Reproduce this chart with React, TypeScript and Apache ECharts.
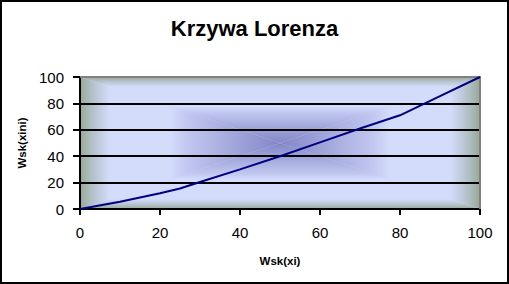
import React, { useEffect, useRef } from "react";
import * as echarts from "echarts";

const chartTitle = "Krzywa Lorenza";
const xAxisName = "Wsk(xi)";
const yAxisName = "Wsk(xini)";
const xValues = [0, 10, 20, 25, 30, 40, 50, 60, 70, 80, 90, 100];
const yValues = [0, 5.5, 12, 15.5, 20.5, 30, 40, 50.5, 61, 71, 85.5, 100];

const W = 509;
const H = 284;
const X0 = 80, X1 = 480, Y0 = 77, Y1 = 209;
const CX = (X0 + X1) / 2, CY = (Y0 + Y1) / 2;

const stops = [
  { offset: 0, color: "#97a994" },
  { offset: 0.06, color: "#b3c0c8" },
  { offset: 0.15, color: "#d4dcfc" },
  { offset: 0.45, color: "#d4dcfc" },
  { offset: 0.53, color: "#c2c8f0" },
  { offset: 1, color: "#8286c6" },
];

function grad(x: number, y: number, x2: number, y2: number) {
  return { type: "linear", x, y, x2, y2, colorStops: stops };
}

export default function App() {
  const ref = useRef<HTMLDivElement>(null);
  useEffect(() => {
    if (!ref.current) return;
    const chart = echarts.init(ref.current, null, { renderer: "svg" });
    const font = "'Liberation Sans', Arial, sans-serif";
    chart.setOption({
      animation: false,
      backgroundColor: "#ffffff",
      title: {
        text: chartTitle,
        left: "center",
        top: 12,
        textStyle: { fontSize: 22, fontWeight: "bold", color: "#000", fontFamily: font },
      },
      grid: { left: X0, right: W - X1, top: Y0, bottom: H - Y1 },
      xAxis: {
        type: "value",
        min: 0,
        max: 100,
        interval: 20,
        name: xAxisName,
        nameLocation: "middle",
        nameGap: 46,
        nameTextStyle: { fontSize: 11.5, fontWeight: "bold", color: "#000", fontFamily: font },
        axisLine: { show: true, lineStyle: { color: "#000", width: 2 } },
        axisTick: { show: true, length: 6, lineStyle: { color: "#000", width: 2 } },
        axisLabel: { margin: 16, fontSize: 15, color: "#000", fontFamily: font },
        splitLine: { show: false },
      },
      yAxis: {
        type: "value",
        min: 0,
        max: 100,
        interval: 20,
        name: yAxisName,
        nameLocation: "middle",
        nameRotate: 90,
        nameGap: 51,
        nameTextStyle: { fontSize: 11.5, fontWeight: "bold", color: "#000", fontFamily: font },
        axisLine: { show: true, lineStyle: { color: "#000", width: 2 } },
        axisTick: { show: true, length: 7, lineStyle: { color: "#000", width: 2 } },
        axisLabel: { margin: 16, fontSize: 15, color: "#000", fontFamily: font },
        splitLine: { show: true, lineStyle: { color: "#000", width: 2 } },
      },
      graphic: [
        { type: "rect", z: -10, shape: { x: X0, y: Y0, width: X1 - X0, height: Y1 - Y0 }, style: { fill: "#d4dcfc" } },
        { type: "polygon", z: -9, shape: { points: [[X0, Y0], [CX, CY], [X0, Y1]] }, style: { fill: grad(0, 0, 1, 0) } },
        { type: "polygon", z: -9, shape: { points: [[X1, Y0], [CX, CY], [X1, Y1]] }, style: { fill: grad(1, 0, 0, 0) } },
        { type: "polygon", z: -9, shape: { points: [[X0, Y0], [X1, Y0], [CX, CY]] }, style: { fill: grad(0, 0, 0, 1) } },
        { type: "polygon", z: -9, shape: { points: [[X0, Y1], [X1, Y1], [CX, CY]] }, style: { fill: grad(0, 1, 0, 0) } },
        { type: "line", z: 1, shape: { x1: X0, y1: Y0, x2: X1 + 1, y2: Y0 }, style: { stroke: "#808080", lineWidth: 2 } },
        { type: "line", z: 1, shape: { x1: X1, y1: Y0, x2: X1, y2: Y1 }, style: { stroke: "#808080", lineWidth: 2 } },
        { type: "rect", z: 20, shape: { x: 1, y: 1, width: W - 2, height: H - 2 }, style: { fill: "none", stroke: "#000", lineWidth: 2 } },
      ],
      series: [
        {
          type: "line",
          data: xValues.map((x, i) => [x, yValues[i]]),
          showSymbol: false,
          symbol: "none",
          lineStyle: { color: "#000080", width: 2 },
          z: 3,
        },
      ],
    });
    return () => chart.dispose();
  }, []);
  return (
    <div
      ref={ref}
      style={{ position: "fixed", left: 0, top: 0, width: W, height: H }}
    />
  );
}
